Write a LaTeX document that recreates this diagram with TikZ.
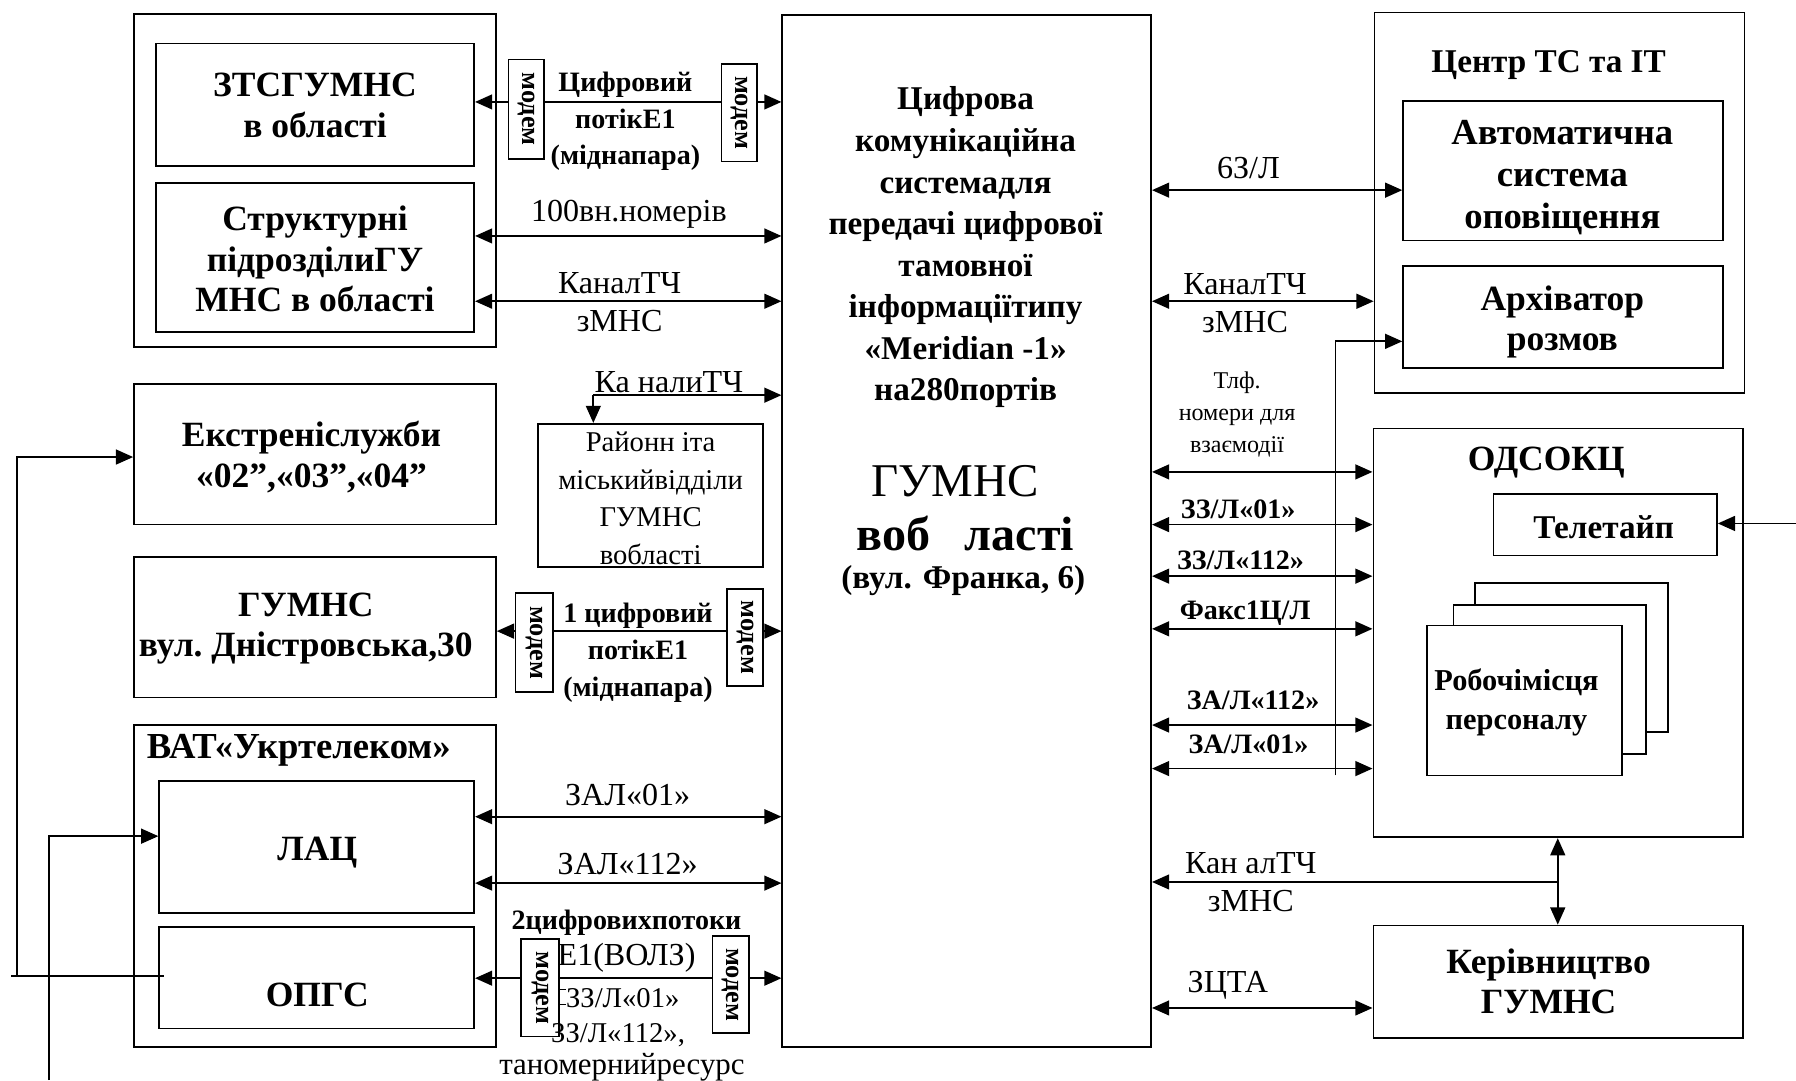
\documentclass[tikz,border=0pt]{standalone}
\usepackage{fontspec}
\setmainfont{Liberation Serif}
\usetikzlibrary{arrows.meta,fit}
\begin{document}
\begin{tikzpicture}[x=1pt,y=-1pt,
  box/.style={draw,line width=1.5pt,inner sep=0pt},
  ln/.style={line width=1.5pt},
  arr/.style={ln,-{Triangle[length=15pt,width=13pt]}},
  barr/.style={ln,{Triangle[length=15pt,width=13pt]}-{Triangle[length=15pt,width=13pt]}},
  bigb/.style={font=\fontsize{31}{35}\selectfont\bfseries,align=center,inner sep=0pt},
  midb/.style={font=\fontsize{29}{35}\selectfont\bfseries,align=center,inner sep=0pt},
  lab/.style={font=\fontsize{28}{33}\selectfont,align=center,inner sep=0pt},
  labb/.style={font=\fontsize{24.5}{32}\selectfont\bfseries,align=center,inner sep=0pt},
  sml/.style={font=\fontsize{21}{28}\selectfont,align=center,inner sep=0pt},
  smr/.style={font=\fontsize{25}{28}\selectfont,inner sep=0pt},
  modemtxt/.style={font=\fontsize{23}{23}\selectfont\bfseries,rotate=-90,inner sep=0pt},
]
\useasboundingbox (0,0) rectangle (1568,943);
\fill[white] (0,0) rectangle (1568,943);
% ---------- boxes left ----------
\node[box,fit={(117,12) (433,303)}] (topl) {};
\node[box,fit={(136,38) (414,145)}] (zts) {};
\node[box,fit={(136,160) (414,290)}] (str) {};
\node[box,fit={(117,335) (433,458)}] (ekstr) {};
\node[box,fit={(117,486) (433,609)}] (gdn) {};
\node[box,fit={(117,633) (433,914)}] (vat) {};
\node[box,fit={(139,682) (414,797)}] (lac) {};
\node[box,fit={(139,809) (414,898)}] (opgs) {};
\node[box,fit={(470,370) (666,495)}] (rai) {};
% ---------- central ----------
\node[box,fit={(683,13) (1005,914)}] (cen) {};
% ---------- right ----------
\node[box,fit={(1200,11) (1523,343)}] (ctr) {};
\node[box,fit={(1225,88) (1504,210)}] (aso) {};
\node[box,fit={(1225,232) (1504,321)}] (arh) {};
\node[box,fit={(1199,374) (1522,731)}] (ods) {};
\node[box,fit={(1304,431) (1499,485)}] (tel) {};
\node[box,fill=white,fit={(1288,509) (1456,639)}] (rm3) {};
\node[box,fill=white,fit={(1269,528) (1437,658)}] (rm2) {};
\node[box,fill=white,fit={(1246,546) (1416,677)}] (rm1) {};
\node[box,fit={(1199,808) (1522,906)}] (ker) {};
% ---------- modems ----------
\node[box,fit={(444,52) (475,139)}] (mA) {};
\node[box,fit={(630,56) (661,141)}] (mB) {};
\node[box,fit={(450,518) (483,604)}] (mE) {};
\node[box,fit={(635,514) (666,599)}] (mF) {};
\node[box,fit={(455,820) (488,905)}] (mC) {};
\node[box,fit={(622,817) (654,902)}] (mD) {};
\node[modemtxt] (mAt) at (mA.center) {модем};
\node[modemtxt] (mBt) at (mB.center) {модем};
\node[modemtxt] (mEt) at (mE.center) {модем};
\node[modemtxt] (mFt) at (mF.center) {модем};
\node[modemtxt] (mCt) at (mC.center) {модем};
\node[modemtxt] (mDt) at (mD.center) {модем};
% ---------- texts left ----------
\node[bigb] (ztst) at (275,92) {ЗТСГУМНС\\в області};
\node[bigb] (strt) at (275,226) {Структурні\\підрозділиГУ\\МНС в області};
\node[bigb] (ekt) at (272,399) {Екстреніслужби\\«02”,«03”,«04”};
\node[bigb] (gdnt) at (267,549) {ГУМНС\\вул.~Дністровська,30};
\node[bigb,font=\fontsize{32}{35}\selectfont\bfseries,anchor=west] (vatt) at (128,655) {ВАТ«Укртелеком»};
\node[bigb] (lact) at (277,744) {ЛАЦ};
\node[bigb] (opgst) at (277,869) {ОПГС};
\node[labb] (l1) at (546,106) {Цифровий\\потікЕ1\\(міднапара)};
\node[lab] (l2) at (549,187) {100вн.номерів};
\node[lab] (l3) at (541,264) {КаналТЧ\\зМНС};
\node[lab] (l4) at (584,334) {Ка налиТЧ};
\node[font=\fontsize{25}{33}\selectfont,align=center,inner sep=0pt] (rait) at (568,435) {Районн іта\\міськийвідділи\\ГУМНС\\вобласті};
\node[labb] (l5) at (557,570) {1 цифровий\\потікЕ1\\(міднапара)};
\node[lab] (l6) at (548,694) {ЗАЛ«01»};
\node[lab] (l7) at (548,754) {ЗАЛ«112»};
\node[labb] (l8) at (547,806) {2цифровихпотоки};
\node[lab] (l9) at (547,836) {Е1(ВОЛЗ)};
\node[smr,anchor=west] (l10) at (494,871) {ЗЗ/Л«01»};
\node[smr,anchor=west] (l11) at (481,904) {ЗЗ/Л«112»,};
\node[font=\fontsize{27}{28}\selectfont,inner sep=0pt] (l12) at (543,932) {таномернийресурс};
% ---------- central texts ----------
\node[bigb,font=\fontsize{29}{36.3}\selectfont\bfseries] (cent1) at (843,216) {Цифрова\\комунікаційна\\системадля\\передачі цифрової\\тамовної\\інформаціїтипу\\«Meridian -1»\\на280портів};
\node[inner sep=0pt,font=\fontsize{41}{41}\selectfont] (cent2) at (834,420) {ГУМНС};
\node[inner sep=0pt,font=\fontsize{42}{42}\selectfont\bfseries] (cent3) at (843,466) {воб\hspace{30pt}ласті};
\node[inner sep=0pt,font=\fontsize{29}{29}\selectfont\bfseries] (cent4) at (841,507) {(вул. Франка, 6)};
% ---------- right texts ----------
\node[midb] (ctrt) at (1352,57) {Центр ТС та ІТ};
\node[bigb,font=\fontsize{32}{37}\selectfont\bfseries] (asot) at (1364,155) {Автоматична\\система\\оповіщення};
\node[bigb] (arht) at (1364,281) {Архіватор\\розмов};
\node[lab] (r1) at (1090,147) {6З/Л};
\node[lab] (r2) at (1087,265) {КаналТЧ\\зМНС};
\node[sml] (r3) at (1080,362) {Тлф.\\номери для\\взаємодії};
\node[labb] (r4) at (1081,445) {ЗЗ/Л«01»};
\node[labb] (r5) at (1083,489) {ЗЗ/Л«112»};
\node[labb] (r6) at (1087,535) {Факс1Ц/Л};
\node[labb] (r7) at (1094,611) {ЗА/Л«112»};
\node[labb] (r8) at (1090,650) {ЗА/Л«01»};
\node[bigb] (odst) at (1350,404) {ОДСОКЦ};
\node[midb] (telt) at (1400,460) {Телетайп};
\node[labb,font=\fontsize{26.5}{34}\selectfont\bfseries] (rmt) at (1324,613) {Робочімісця\\персоналу};
\node[lab] (r9) at (1092,770) {Кан алТЧ\\зМНС};
\node[bigb] (kert) at (1352,857) {Керівництво\\ГУМНС};
\node[lab] (r10) at (1072,860) {ЗЦТА};
% ---------- connectors left ----------
\draw[arr] (mA.west |- 0,89) -- (zts.east |- 0,89);
\draw[ln] (mA.east |- 0,89) -- (mB.west |- 0,89);
\draw[arr] (mB.east |- 0,89) -- (cen.west |- 0,89);
\draw[barr] (str.east |- 0,206) -- (cen.west |- 0,206);
\draw[barr] (str.east |- 0,263) -- (cen.west |- 0,263);
\coordinate (kc) at (518,345);
\draw[arr] (kc) -- (cen.west |- kc);
\draw[arr] (kc) -- (kc |- rai.north);
\draw[arr] (mE.west |- 0,551) -- (gdn.east |- 0,551);
\draw[ln] (mE.east |- 0,551) -- (mF.west |- 0,551);
\draw[arr] (mF.east |- 0,551) -- (cen.west |- 0,551);
\draw[barr] (lac.east |- 0,713) -- (cen.west |- 0,713);
\draw[barr] (lac.east |- 0,771) -- (cen.west |- 0,771);
\draw[arr] (mC.west |- 0,854) -- (opgs.east |- 0,854);
\draw[ln] (mC.east |- 0,854) -- (mD.west |- 0,854);
\draw[arr] (mD.east |- 0,854) -- (cen.west |- 0,854);
\draw[line width=1pt] (mC.east |- 0,864) -- +(5,0);
\draw[line width=1pt] (mC.east |- 0,877) -- +(5,0);
\coordinate (e1) at (10,852);
\coordinate (e2) at (143,852);
\draw[ln] (e1) -- (e2);
\coordinate (v1) at (15,852);
\draw[arr] (v1) |- (ekstr.west |- 0,399);
\coordinate (v2) at (43,943);
\draw[arr] (v2) |- (lac.west |- 0,730);
% ---------- connectors right ----------
\draw[barr] (cen.east |- 0,166) -- (aso.west |- 0,166);
\draw[barr] (cen.east |- 0,263) -- (ctr.west |- 0,263);
\coordinate (vr1) at (1166,677);
\draw[arr] (vr1) |- (arh.west |- 0,298);
\draw[barr] (cen.east |- 0,412) -- (ods.west |- 0,412);
\draw[barr] (cen.east |- 0,458) -- (ods.west |- 0,458);
\draw[barr] (cen.east |- 0,503) -- (ods.west |- 0,503);
\draw[barr] (cen.east |- 0,549) -- (ods.west |- 0,549);
\draw[barr] (cen.east |- 0,633) -- (ods.west |- 0,633);
\draw[barr] (cen.east |- 0,671) -- (ods.west |- 0,671);
\coordinate (tt) at (1568,457);
\draw[arr] (tt) -- (tel.east |- tt);
\draw[barr] (ods.south -| 1360,0) -- (ker.north -| 1360,0);
\coordinate (kk) at (1360,770);
\draw[arr] (kk) -- (cen.east |- kk);
\draw[barr] (cen.east |- 0,880) -- (ker.west |- 0,880);
\end{tikzpicture}
\end{document}
